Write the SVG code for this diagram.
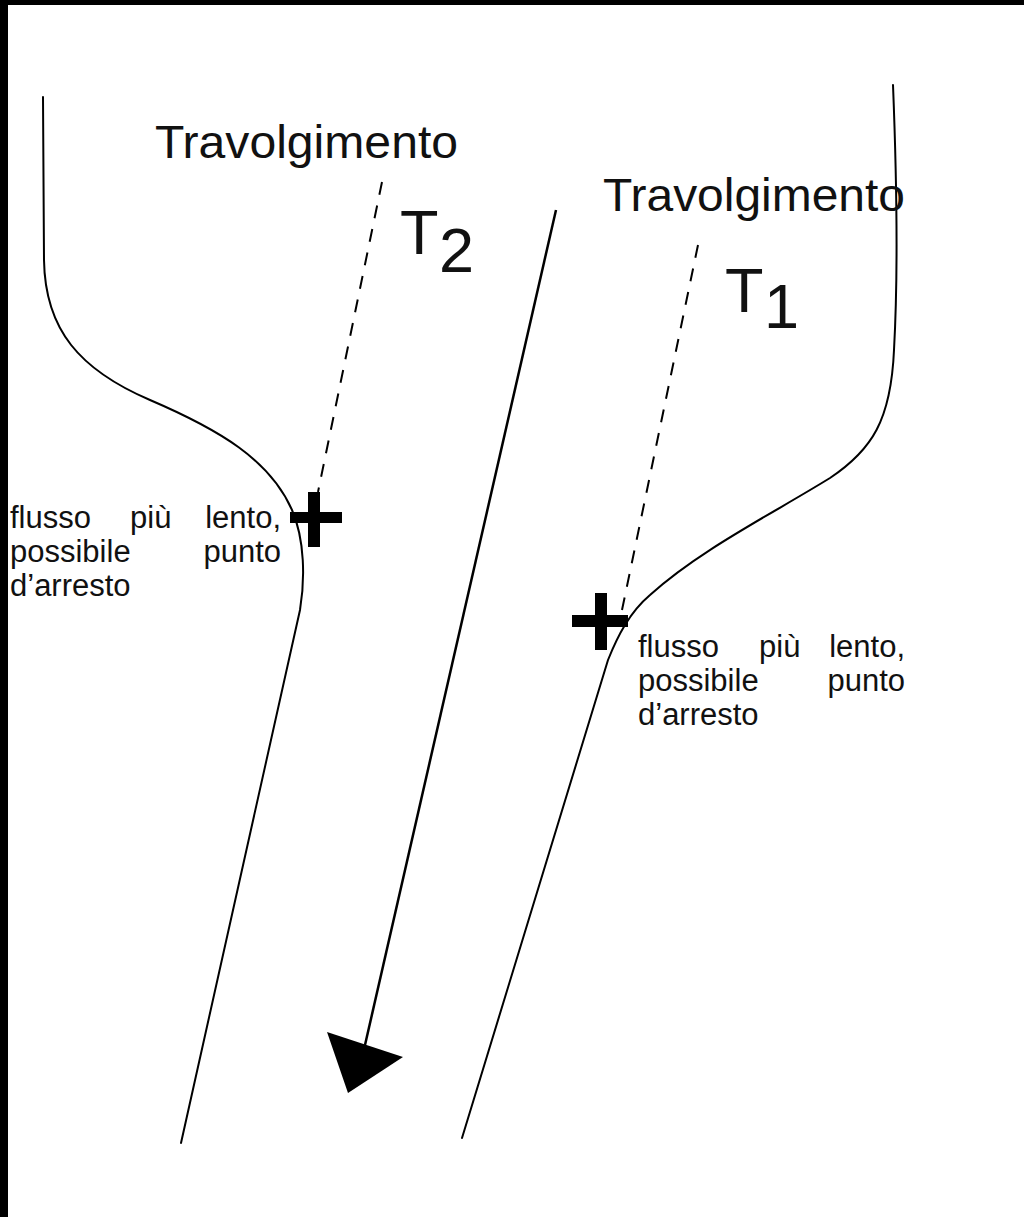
<svg xmlns="http://www.w3.org/2000/svg" width="1024" height="1217" viewBox="0 0 1024 1217">
<style>
.bank{fill:none;stroke:#000;stroke-width:2;stroke-linecap:round;stroke-linejoin:round}
.flow{fill:none;stroke:#000;stroke-width:2.5}
.dash{fill:none;stroke:#000;stroke-width:2;stroke-dasharray:13 11}
.lbl{font-family:"Liberation Sans",Arial,sans-serif;fill:#111}
.t{font-size:47px}
.big{font-size:63px}
.small{font-size:31px}
</style>
<rect x="0" y="0" width="1024" height="1217" fill="#fff"/>
<rect x="0" y="0" width="1024" height="5" fill="#000"/>
<rect x="0" y="0" width="8" height="1217" fill="#000"/>
<g id="connectors">
<path class="bank" d="M43,97 L44,260 C45,330 80,370 150,400 C220,430 270,460 292,510 C305,540 305,580 300,610 L181,1143"/>
<path class="bank" d="M893,85 C896,160 899,260 894,350 C891,420 872,450 830,478 C770,515 700,550 650,595 C630,612 618,635 608,660 L462,1138"/>
<path class="flow" d="M556,210 L365,1045"/>
<polygon points="327,1032 403,1057 348,1093" fill="#000"/>
<path class="dash" d="M382,182 L318,492"/>
<path class="dash" d="M698,245 L622,610"/>
</g>
<g id="cross-t2">
<rect x="290" y="512" width="52" height="11" fill="#000"/>
<rect x="308" y="492" width="12" height="55" fill="#000"/>
</g>
<g id="cross-t1">
<rect x="572" y="615" width="56" height="12" fill="#000"/>
<rect x="595" y="593" width="12" height="57" fill="#000"/>
</g>
<g id="label-t2">
<text class="lbl t" x="155" y="158" textLength="303" lengthAdjust="spacingAndGlyphs">Travolgimento</text>
<text class="lbl big" x="400" y="254">T</text>
<text class="lbl big" x="439" y="272">2</text>
</g>
<g id="label-t1">
<text class="lbl t" x="603" y="211" textLength="302" lengthAdjust="spacingAndGlyphs">Travolgimento</text>
<text class="lbl big" x="725" y="312">T</text>
<text class="lbl big" x="764" y="328">1</text>
</g>
<g id="note-left">
<text class="lbl small" x="10" y="528">flusso</text>
<text class="lbl small" x="130" y="528">più</text>
<text class="lbl small" x="281" y="528" text-anchor="end">lento,</text>
<text class="lbl small" x="10" y="562">possibile</text>
<text class="lbl small" x="281" y="562" text-anchor="end">punto</text>
<text class="lbl small" x="10" y="596">d’arresto</text>
</g>
<g id="note-right">
<text class="lbl small" x="638" y="657">flusso</text>
<text class="lbl small" x="759" y="657">più</text>
<text class="lbl small" x="905" y="657" text-anchor="end">lento,</text>
<text class="lbl small" x="638" y="691">possibile</text>
<text class="lbl small" x="905" y="691" text-anchor="end">punto</text>
<text class="lbl small" x="638" y="725">d’arresto</text>
</g>
</svg>
